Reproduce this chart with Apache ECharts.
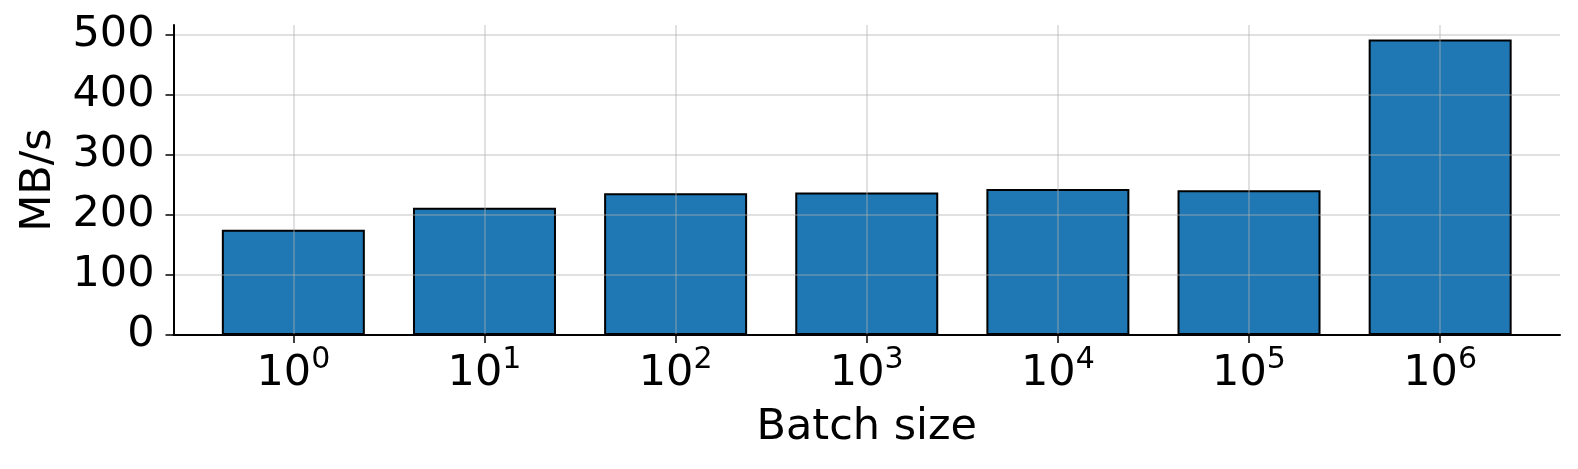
<!DOCTYPE html>
<html>
<head>
<meta charset="utf-8">
<script src="https://cdn.jsdelivr.net/npm/echarts@6/dist/echarts.min.js"></script>
<style>
  html, body { margin: 0; padding: 0; background: #fff; }
  #chart { width: 1578px; height: 469px; }
</style>
</head>
<body>
<div id="chart"></div>
<script>
// batch size exponents (10^n) and measured throughput
const batchExp = [0, 1, 2, 3, 4, 5, 6];
const throughput = [175, 212, 236, 237, 243, 241, 492];
const yTicks = [0, 100, 200, 300, 400, 500];

const font = "DejaVu Sans";
const chart = echarts.init(document.getElementById("chart"));

const barData = batchExp.map((e, i) => [e, throughput[i]]);

chart.setOption({
    animation: false,
    grid: { left: 173.5, right: 18, top: 25, bottom: 134 },
    xAxis: {
        type: "value",
        min: -0.627,
        max: 6.627,
        z: 5,
        name: "Batch size",
        nameLocation: "middle",
        nameGap: 71,
        nameTextStyle: { fontFamily: font, fontSize: 43, color: "#000" },
        axisLine: { onZero: false, lineStyle: { color: "#000", width: 2 } },
        axisTick: {
            customValues: batchExp,
            length: 8,
            lineStyle: { color: "#000", width: 1.5 },
        },
        axisLabel: {
            customValues: batchExp,
            margin: 10,
            formatter: (v) => "{b|10}{s|" + v + "}",
            rich: {
                b: { fontFamily: font, fontSize: 43, color: "#000", lineHeight: 50, verticalAlign: "bottom" },
                s: { fontFamily: font, fontSize: 30, color: "#000", lineHeight: 30, verticalAlign: "top" },
            },
        },
        splitLine: {
            show: true,
            lineStyle: { color: "rgba(176,176,176,0.5)", width: 1.5 },
        },
    },
    yAxis: {
        type: "value",
        min: 0,
        max: 516,
        z: 5,
        name: "MB/s",
        nameLocation: "middle",
        nameGap: 113,
        nameTextStyle: { fontFamily: font, fontSize: 43, color: "#000" },
        axisLine: { show: true, onZero: false, lineStyle: { color: "#000", width: 2 } },
        axisTick: {
            show: true,
            customValues: yTicks,
            length: 8,
            lineStyle: { color: "#000", width: 1.5 },
        },
        axisLabel: {
            customValues: yTicks,
            margin: 19,
            fontFamily: font,
            fontSize: 43,
            color: "#000",
        },
        splitLine: {
            show: true,
            lineStyle: { color: "rgba(176,176,176,0.5)", width: 1.5 },
        },
    },
    series: [
        {
            type: "bar",
            data: barData,
            barWidth: 143,
            itemStyle: {
                color: "#1f77b4",
                borderColor: "#000",
                borderWidth: 2,
            },
        },
    ],
});
</script>
</body>
</html>
